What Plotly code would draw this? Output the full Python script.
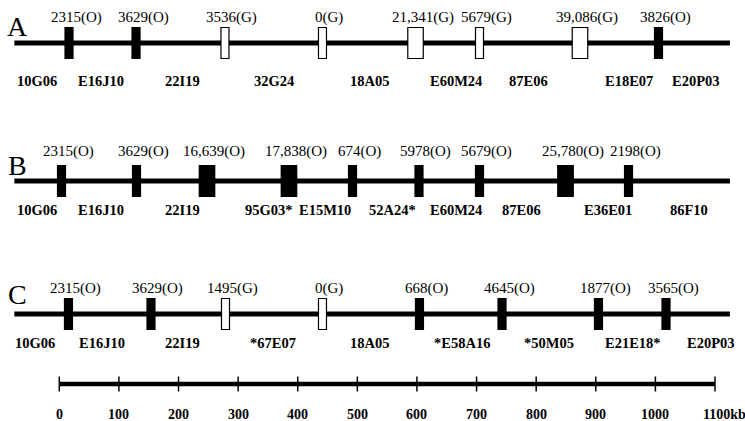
import plotly.graph_objects as go

# ---- contig maps: gap positions (kb), gap sizes (bp), closure type, and clones between gaps ----
a_gap_kb = [16.3, 128.7, 277.9, 441.5, 597.6, 704.9, 873.5, 1005.2]
a_gap_bp = [2315, 3629, 3536, 0, 21341, 5679, 39086, 3826]
a_gap_type = ["O", "O", "G", "G", "G", "G", "G", "O"]
a_clones = ["10G06", "E16J10", "22I19", "32G24", "18A05", "E60M24", "87E06", "E18E07", "E20P03"]
a_clone_kb = [-37.4, 70.0, 207.5, 360.2, 521.2, 665.5, 786.3, 955.7, 1068.2]

b_gap_kb = [3.7, 129.5, 247.8, 385.3, 491.9, 603.4, 704.9, 849.2, 954.9]
b_gap_bp = [2315, 3629, 16639, 17838, 674, 5978, 5679, 25780, 2198]
b_gap_type = ["O", "O", "O", "O", "O", "O", "O", "O", "O"]
b_clones = ["10G06", "E16J10", "22I19", "95G03*", "E15M10", "52A24*", "E60M24", "87E06", "E36E01", "86F10"]
b_clone_kb = [-37.4, 70.1, 207.5, 352.0, 446.0, 558.2, 665.5, 774.6, 920.5, 1056.4]

c_gap_kb = [15.4, 153.8, 278.8, 441.5, 604.2, 742.7, 904.5, 1017.8]
c_gap_bp = [2315, 3629, 1495, 0, 668, 4645, 1877, 3565]
c_gap_type = ["O", "O", "G", "G", "O", "O", "O", "O"]
c_clones = ["10G06", "E16J10", "22I19", "*67E07", "18A05", "*E58A16", "*50M05", "E21E18*", "E20P03"]
c_clone_kb = [-40.8, 71.6, 207.5, 358.5, 519.6, 675.6, 821.6, 962.5, 1093.3]

row_names = ["A", "B", "C"]
contig_start_kb = -75.4
contig_end_kb = 1125.0

scale_ticks_kb = [0, 100, 200, 300, 400, 500, 600, 700, 800, 900, 1000, 1100]
scale_labels = ["0", "100", "200", "300", "400", "500", "600", "700", "800", "900", "1000", "1100kb"]

# ---- layout (vertical positions are in pixel units, y grows downward) ----
W, H = 745, 421
PX_PER_KB = 0.5961
X0_PX = 59.3
x_lo = -X0_PX / PX_PER_KB
x_hi = (W - X0_PX) / PX_PER_KB

row_layout = {
    # line y, top label y, bottom label y, letter y
    "A": dict(line=43, top=17, bottom=80.5, letter=26.5),
    "B": dict(line=181, top=151, bottom=210, letter=165.5),
    "C": dict(line=314, top=288, bottom=343, letter=294),
}
BOX_HALF_H = 15.5
SMALL_W_KB = 8.0 / PX_PER_KB
LARGE_W_KB = 15.5 / PX_PER_KB
SCALE_Y = 384
SCALE_TICK_HALF = 7.5
SCALE_LABEL_Y = 414

SERIF = "Liberation Serif, Times New Roman, serif"

rows = {
    "A": (a_gap_kb, a_gap_bp, a_gap_type, a_clones, a_clone_kb),
    "B": (b_gap_kb, b_gap_bp, b_gap_type, b_clones, b_clone_kb),
    "C": (c_gap_kb, c_gap_bp, c_gap_type, c_clones, c_clone_kb),
}


def fmt_bp(v):
    return f"{v:,}" if v >= 10000 else str(v)


shapes = []
annotations = []

for name in row_names:
    gap_kb, gap_bp, gap_type, clones, clone_kb = rows[name]
    lay = row_layout[name]
    y = lay["line"]

    # contig backbone
    shapes.append(dict(type="line", xref="x", yref="y",
                       x0=contig_start_kb, x1=contig_end_kb, y0=y, y1=y,
                       line=dict(color="black", width=5)))

    # gaps: filled = closed by one method (O), open = the other (G)
    for kb, bp, t in zip(gap_kb, gap_bp, gap_type):
        w = LARGE_W_KB if bp >= 10000 else SMALL_W_KB
        shapes.append(dict(type="rect", xref="x", yref="y",
                           x0=kb - w / 2, x1=kb + w / 2,
                           y0=y - BOX_HALF_H, y1=y + BOX_HALF_H,
                           fillcolor="black" if t == "O" else "white",
                           line=dict(color="black", width=1.2)))
        annotations.append(dict(x=kb, y=lay["top"], xref="x", yref="y",
                                text=f"{fmt_bp(bp)}({t})", showarrow=False,
                                xanchor="center", yanchor="middle", xshift=7,
                                font=dict(family=SERIF, size=15, color="black")))

    for cname, kb in zip(clones, clone_kb):
        annotations.append(dict(x=kb, y=lay["bottom"], xref="x", yref="y",
                                text=f"<b>{cname}</b>", showarrow=False,
                                xanchor="center", yanchor="middle",
                                font=dict(family=SERIF, size=14.5, color="black")))

    annotations.append(dict(x=-69.5, y=lay["letter"], xref="x", yref="y",
                            text=name, showarrow=False,
                            xanchor="center", yanchor="middle",
                            font=dict(family=SERIF, size=28, color="black")))

# ---- kb scale bar ----
shapes.append(dict(type="line", xref="x", yref="y",
                   x0=scale_ticks_kb[0], x1=scale_ticks_kb[-1], y0=SCALE_Y, y1=SCALE_Y,
                   line=dict(color="black", width=4.5)))
for kb, lab in zip(scale_ticks_kb, scale_labels):
    shapes.append(dict(type="line", xref="x", yref="y",
                       x0=kb, x1=kb, y0=SCALE_Y - SCALE_TICK_HALF, y1=SCALE_Y + SCALE_TICK_HALF,
                       line=dict(color="black", width=1.5)))
    last = lab.endswith("kb")
    annotations.append(dict(x=kb, y=SCALE_LABEL_Y, xref="x", yref="y",
                            text=f"<b>{lab}</b>", showarrow=False,
                            xanchor="left" if last else "center",
                            xshift=-14 if last else 0,
                            yanchor="middle",
                            font=dict(family=SERIF, size=14, color="black")))

fig = go.Figure()
fig.add_trace(go.Scatter(x=[x_lo, x_hi], y=[0, H], mode="markers",
                         marker=dict(opacity=0), hoverinfo="skip", showlegend=False))
fig.update_layout(
    width=W, height=H,
    margin=dict(l=0, r=0, t=0, b=0),
    paper_bgcolor="white", plot_bgcolor="white",
    xaxis=dict(range=[x_lo, x_hi], visible=False, fixedrange=True),
    yaxis=dict(range=[H, 0], visible=False, fixedrange=True),
    shapes=shapes, annotations=annotations,
    showlegend=False,
)
fig.write_html("out.html")
